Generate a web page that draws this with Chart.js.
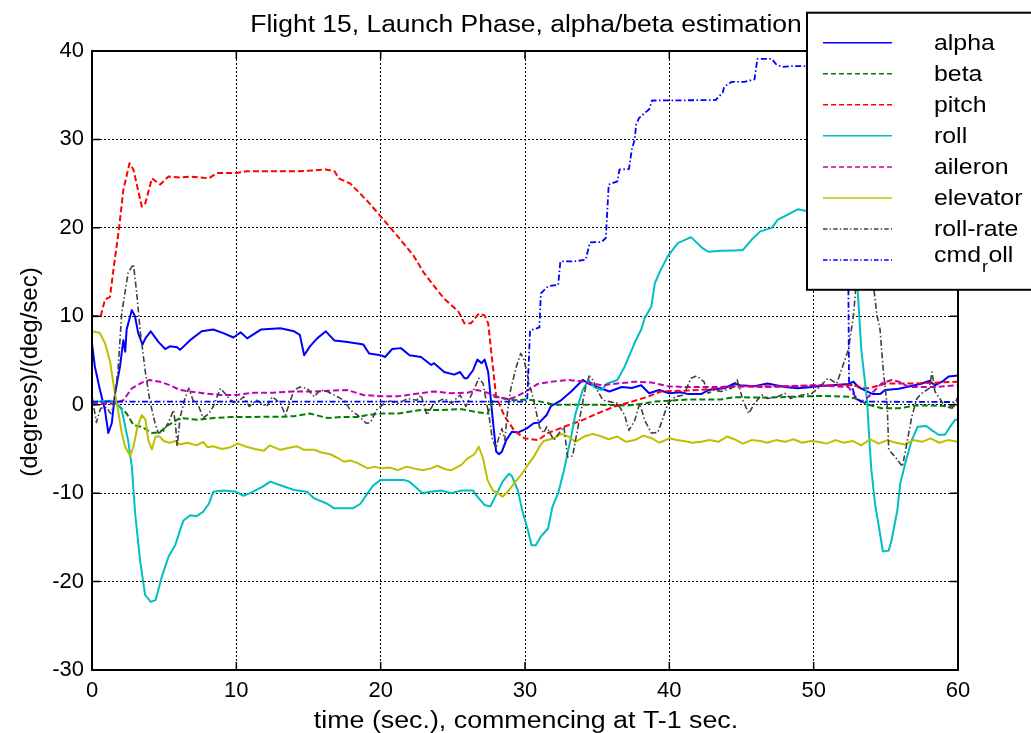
<!DOCTYPE html>
<html>
<head>
<meta charset="utf-8">
<script src="https://cdn.jsdelivr.net/npm/chart.js@4/dist/chart.umd.min.js"></script>
<style>
  html, body { margin: 0; padding: 0; background: #ffffff; overflow: hidden; }
  #wrap { width: 1031px; height: 733px; }
  canvas { display: block; }
</style>
</head>
<body>
<div id="wrap"><canvas id="chart" width="1031" height="733"></canvas></div>
<script>
// Axis ticks
const xTicks = [0, 10, 20, 30, 40, 50, 60];
const yTicks = [-30, -20, -10, 0, 10, 20, 30, 40];

// Series, as [time (s), value] pairs
const alpha = [[0,6.9],[0.2,4.3],[0.55,1.7],[0.9,-0.6],[1.13,-3.2],[1.37,-2.1],[1.6,1.3],[1.94,4.3],[2.17,7.3],[2.3,6.0],[2.4,8.5],[2.76,10.7],[2.98,10.0],[3.2,8.1],[3.5,6.8],[3.7,7.5],[4.07,8.3],[4.6,7.1],[5.07,6.3],[5.4,6.6],[5.9,6.5],[6.1,6.2],[6.8,7.3],[7.6,8.3],[8.4,8.5],[9.1,8.1],[9.8,7.6],[10.3,8.2],[10.75,7.5],[11.7,8.5],[13.05,8.65],[14.0,8.3],[14.4,7.9],[14.7,5.6],[15.1,6.6],[15.6,7.5],[16.2,8.3],[16.8,7.25],[17.7,7.1],[18.5,6.9],[18.8,6.8],[19.2,5.8],[20.0,5.6],[20.3,5.4],[20.8,6.3],[21.4,6.4],[22.0,5.6],[22.8,5.4],[23.5,4.5],[23.7,4.7],[24.4,3.7],[25.1,3.4],[25.5,3.7],[25.8,3.0],[26.0,3.0],[26.4,3.9],[26.7,5.1],[27.0,4.7],[27.2,5.1],[27.45,3.7],[27.75,-1.4],[28.0,-5.3],[28.2,-5.6],[28.4,-5.3],[28.7,-4.0],[29.1,-3.05],[29.5,-3.15],[30.1,-2.7],[30.6,-2.1],[31.0,-2.0],[31.5,-1.17],[31.8,-0.15],[32.5,0.5],[33.2,1.5],[34.0,2.8],[34.4,2.4],[35.0,2.0],[35.85,1.5],[36.7,2.0],[37.4,1.9],[38.05,2.2],[38.6,1.3],[39.3,1.66],[40.0,1.3],[40.8,1.4],[41.3,1.2],[42.2,1.2],[42.7,1.66],[43.8,1.85],[44.5,2.4],[44.9,2.2],[45.9,2.1],[46.8,2.4],[48.0,2.0],[48.9,1.86],[49.9,2.0],[50.3,2.1],[51.3,2.2],[52.4,2.35],[52.75,2.6],[53.1,2.0],[53.7,1.5],[54.1,1.2],[54.6,1.2],[54.95,1.66],[55.9,1.8],[57.0,2.2],[57.5,2.4],[58.0,2.7],[58.4,2.2],[58.9,2.6],[59.35,3.2],[60,3.3]];

const beta = [[0,0.15],[1.7,0.15],[2.4,-1.0],[2.87,-2.3],[3.45,-2.5],[4.15,-3.2],[4.7,-3.1],[5.2,-2.4],[6.1,-1.5],[7.3,-1.7],[8.4,-1.5],[9.6,-1.4],[10.7,-1.4],[12.1,-1.35],[13.3,-1.35],[14.0,-1.3],[15.1,-1.0],[16.3,-1.5],[17.2,-1.4],[18.4,-1.4],[19.1,-1.17],[20.0,-1.0],[21.2,-1.0],[22.3,-0.7],[22.8,-0.6],[24.2,-0.6],[25.6,-0.5],[26.7,-0.86],[27.4,-1.0],[27.9,0.9],[28.3,0.8],[29.25,0.5],[30.2,0.6],[31.1,0.35],[32.0,0.0],[33.4,0.0],[35.3,0.0],[37.1,-0.1],[38.1,0.1],[39.0,0.35],[40.0,0.45],[41.3,0.6],[43.6,0.6],[44.5,0.85],[46.8,0.8],[48.5,0.9],[50.6,1.0],[52.4,0.9],[52.9,0.7],[53.8,0.0],[54.7,-0.4],[55.9,-0.4],[57.0,-0.1],[58.2,-0.1],[60,-0.2]];

const pitch = [[0,10],[0.6,10],[0.9,11.9],[1.25,12.2],[1.48,15.2],[1.9,20.3],[2.17,24.3],[2.6,27.3],[2.87,26.6],[3.45,22.4],[3.7,22.8],[4.15,25.6],[4.72,24.9],[5.3,25.8],[6.1,25.7],[6.8,25.8],[8.1,25.6],[8.66,26.2],[10.0,26.2],[10.7,26.4],[14.2,26.4],[15.4,26.5],[16.2,26.6],[16.8,26.4],[17.1,25.6],[17.9,25.0],[19.1,23.0],[20.0,21.3],[21.2,19.0],[22.3,16.8],[23.0,14.9],[23.9,13.0],[24.4,12.0],[25.4,10.5],[25.8,9.2],[26.25,9.2],[26.8,10.3],[27.2,10.1],[27.45,9.2],[27.8,3.9],[28.0,0.9],[28.6,-1.35],[29.25,-2.9],[29.95,-3.8],[30.9,-4.0],[31.6,-3.2],[32.7,-2.5],[33.9,-1.8],[35.0,-1.0],[36.2,-0.2],[37.4,0.35],[38.5,0.9],[39.4,1.5],[41.3,1.6],[42.7,1.75],[44.1,2.0],[45.7,2.1],[48.0,2.1],[50.3,2.2],[52.6,2.2],[53.8,1.85],[55.0,2.4],[57.0,2.4],[60,2.6]];

const roll = [[0,0.3],[1.25,0.45],[1.7,0.3],[2.06,-0.6],[2.5,-4.0],[2.76,-7.0],[2.99,-12.3],[3.33,-17.6],[3.68,-21.5],[4.07,-22.3],[4.4,-22.1],[4.83,-19.5],[5.3,-17.2],[5.76,-15.9],[6.1,-14.2],[6.34,-13.1],[6.8,-12.5],[7.25,-12.6],[7.7,-12.1],[8.1,-11.2],[8.4,-9.85],[9.1,-9.7],[10.0,-9.85],[10.5,-10.3],[10.95,-10.0],[11.8,-9.3],[12.36,-8.7],[13.05,-9.1],[14.0,-9.65],[14.9,-9.85],[15.4,-10.6],[16.3,-11.2],[16.75,-11.7],[18.1,-11.7],[18.6,-11.2],[19.1,-10.0],[19.5,-9.1],[20.0,-8.5],[21.6,-8.5],[22.0,-8.7],[22.9,-10.0],[23.45,-9.85],[24.2,-9.7],[24.9,-10.0],[25.6,-9.7],[26.4,-9.7],[26.6,-10.2],[27.2,-11.35],[27.6,-11.5],[28.0,-10.2],[28.45,-8.7],[28.9,-7.8],[29.1,-8.1],[29.5,-9.65],[29.8,-11.9],[30.2,-14.2],[30.45,-15.9],[30.75,-15.9],[31.1,-14.9],[31.6,-14.0],[31.9,-11.55],[32.3,-10.0],[32.7,-7.4],[33.2,-3.6],[33.5,-1.0],[34.0,1.66],[34.4,2.8],[34.8,2.0],[35.3,1.66],[35.7,2.4],[36.4,2.8],[36.9,4.3],[37.6,7.0],[38.05,8.5],[38.3,9.8],[38.75,11.1],[39.0,13.75],[39.4,15.25],[39.9,16.8],[40.6,18.3],[40.9,18.5],[41.5,18.95],[42.3,17.7],[42.7,17.3],[43.6,17.4],[44.5,17.45],[45.1,17.5],[45.7,18.65],[46.3,19.6],[47.1,20.0],[47.5,20.9],[48.2,21.5],[48.9,22.1],[49.5,21.9],[50.5,23.0],[51.5,24.0],[52.3,24.0],[52.8,20.0],[53.05,13.0],[53.3,6.2],[53.7,0.5],[53.9,-5.1],[54.0,-7.4],[54.25,-11.2],[54.6,-14.6],[54.8,-16.6],[55.2,-16.5],[55.4,-15.3],[55.8,-11.9],[56.0,-8.9],[56.35,-6.6],[56.8,-4.0],[57.2,-2.5],[57.8,-2.4],[58.2,-2.9],[58.65,-3.4],[59.1,-3.4],[59.45,-2.5],[59.8,-1.7],[60,-1.7]];

const aileron = [[0,0.05],[1.5,0.15],[2.17,0.5],[2.76,1.85],[3.45,2.5],[4.0,2.8],[4.7,2.6],[5.4,2.2],[6.1,1.66],[6.8,1.5],[7.7,1.3],[8.9,1.1],[10.0,1.1],[11.2,1.35],[12.5,1.35],[14.0,1.5],[15.4,1.5],[16.75,1.6],[17.7,1.66],[18.8,1.1],[20.0,0.95],[21.2,0.95],[22.3,1.2],[23.7,1.5],[24.9,1.3],[26.0,1.35],[26.7,1.66],[27.4,1.35],[28.1,0.9],[28.8,0.6],[29.4,0.9],[30.2,1.66],[30.9,2.35],[31.8,2.6],[33.0,2.8],[34.1,2.6],[35.3,2.2],[36.4,2.4],[37.6,2.6],[38.8,2.5],[39.9,2.1],[41.0,2.0],[43.4,2.0],[44.5,2.1],[46.8,2.0],[49.2,2.1],[50.3,2.2],[52.4,2.0],[52.9,0.9],[53.3,0.35],[53.8,0.9],[54.7,2.4],[55.4,2.8],[55.9,2.6],[56.6,2.0],[58.4,2.0],[60,2.2]];

const elevator = [[0,8.3],[0.55,8.1],[0.9,6.95],[1.25,4.9],[1.5,2.2],[1.8,-0.6],[2.06,-3.2],[2.3,-4.75],[2.64,-5.8],[2.87,-4.75],[3.15,-2.5],[3.45,-1.17],[3.7,-1.66],[3.9,-4.0],[4.15,-5.05],[4.4,-3.6],[4.7,-3.6],[4.95,-4.1],[5.4,-4.3],[5.8,-4.1],[6.1,-4.5],[6.6,-4.3],[7.25,-4.6],[7.7,-4.2],[8.0,-4.8],[8.4,-4.7],[9.0,-5.0],[9.6,-4.8],[10.1,-4.4],[10.7,-4.75],[11.3,-5.0],[11.9,-5.2],[12.3,-4.6],[13.05,-5.1],[13.6,-4.9],[14.2,-4.7],[14.7,-5.1],[15.4,-5.1],[15.9,-5.4],[16.5,-5.6],[17.0,-6.0],[17.45,-6.45],[17.9,-6.3],[18.4,-6.6],[19.1,-7.2],[19.6,-7.0],[20.0,-7.2],[20.6,-7.1],[21.2,-7.4],[21.8,-7.0],[22.3,-7.2],[22.9,-7.4],[23.5,-7.2],[23.9,-6.9],[24.5,-7.3],[24.9,-7.4],[25.6,-6.8],[26.0,-6.1],[26.5,-5.6],[26.8,-4.75],[27.1,-6.1],[27.4,-8.5],[27.75,-9.65],[28.1,-10.0],[28.45,-10.4],[28.8,-9.85],[29.25,-8.9],[29.7,-8.0],[30.2,-6.8],[30.6,-5.9],[31.0,-4.75],[31.3,-4.1],[32.0,-3.8],[32.5,-3.3],[33.0,-3.6],[33.5,-4.2],[34.1,-3.6],[34.7,-3.3],[35.3,-3.6],[35.8,-3.9],[36.4,-3.6],[37.0,-4.2],[37.6,-4.0],[38.2,-3.5],[38.8,-3.8],[39.3,-4.3],[40.0,-3.8],[40.5,-4.0],[41.0,-4.1],[41.6,-4.3],[42.2,-4.2],[42.8,-4.0],[43.4,-4.2],[44.0,-3.6],[44.5,-3.9],[45.1,-4.4],[45.7,-4.0],[46.3,-4.1],[46.8,-4.3],[47.4,-4.0],[48.0,-4.2],[48.6,-3.9],[49.2,-4.3],[49.8,-4.1],[50.3,-4.2],[50.9,-4.4],[51.5,-4.0],[52.1,-4.3],[52.7,-4.1],[53.3,-4.6],[53.9,-3.9],[54.5,-4.4],[55.1,-4.0],[55.7,-4.3],[56.3,-4.5],[56.9,-4.0],[57.5,-4.2],[58.1,-3.8],[58.7,-4.3],[59.3,-4.0],[60,-4.2]];

const rollRate = [[0,1.0],[0.3,-2.0],[0.6,-0.4],[1.0,-0.3],[1.3,-1.0],[1.48,-0.2],[1.8,3.9],[2.06,10.35],[2.5,14.9],[2.87,15.9],[3.1,12.6],[3.33,8.5],[3.68,3.9],[4.0,0.5],[4.37,-2.1],[4.6,-3.2],[4.95,-3.0],[5.3,-2.0],[5.65,-0.6],[5.8,-2.5],[5.9,-4.75],[6.1,-1.5],[6.4,0.5],[6.7,1.85],[7.0,0.5],[7.4,-0.2],[7.7,-1.5],[8.1,-1.0],[8.4,-0.2],[8.9,1.85],[9.2,1.3],[9.6,0.5],[10.0,0.16],[10.5,0.9],[10.9,-0.2],[11.4,0.5],[12.1,-0.2],[12.5,0.9],[13.05,0.16],[13.4,-1.17],[14.0,1.66],[14.4,2.0],[14.9,1.85],[15.4,0.9],[15.8,1.66],[16.3,1.5],[17.0,0.9],[17.45,0.5],[17.9,-0.6],[18.4,-1.17],[19.0,-2.1],[19.3,-2.0],[19.7,-0.6],[20.0,-0.2],[20.5,0.5],[21.2,0.16],[21.9,0.7],[22.5,0.5],[22.8,1.1],[23.2,-1.17],[23.7,0.16],[24.4,0.7],[24.9,0.16],[25.5,1.1],[25.9,-0.2],[26.5,1.85],[26.8,3.0],[27.1,2.4],[27.3,0.5],[27.5,-1.17],[27.75,-4.0],[28.0,-4.9],[28.2,-3.6],[28.4,-2.7],[28.6,-4.0],[28.8,-0.6],[29.0,1.66],[29.4,4.3],[29.7,5.8],[29.9,5.25],[30.1,3.9],[30.3,2.4],[30.6,0.5],[30.75,-0.6],[31.0,-2.5],[31.3,-3.2],[31.5,-2.5],[32.0,-4.0],[32.5,-2.9],[32.7,-2.5],[32.95,-5.9],[33.3,-5.8],[33.5,-4.0],[33.9,-0.6],[34.2,2.0],[34.45,3.25],[34.7,2.8],[35.0,1.66],[35.4,0.5],[35.85,0.35],[36.4,0.16],[36.9,-1.17],[37.2,-2.9],[37.6,-1.8],[37.95,0.16],[38.3,-1.8],[38.75,-3.2],[39.2,-3.15],[39.5,-1.8],[39.9,0.16],[40.4,0.9],[41.0,1.1],[41.5,3.0],[41.9,3.25],[42.4,2.6],[42.7,1.3],[43.1,1.66],[43.6,1.5],[44.3,1.85],[44.7,2.8],[45.1,0.5],[45.5,-1.0],[45.9,0.16],[46.4,1.1],[46.8,0.7],[47.5,0.9],[48.0,1.3],[48.4,0.7],[49.2,1.1],[49.9,1.3],[50.3,1.85],[51.0,3.0],[51.6,2.4],[52.0,4.3],[52.4,6.2],[52.75,10.0],[52.9,12.8],[53.3,16.5],[53.7,17.5],[54.1,14.0],[54.4,10.0],[54.6,8.5],[54.8,4.3],[55.1,-0.2],[55.2,-5.1],[55.65,-5.9],[56.15,-7.0],[56.45,-4.4],[56.8,-1.35],[57.15,0.7],[57.5,1.3],[58.0,1.85],[58.2,3.7],[58.4,1.5],[58.65,0.9],[59.1,-0.2],[59.6,-0.4],[60,0.9]];

const cmdRoll = [[0,0.35],[30.15,0.35],[30.35,8.4],[31.0,8.75],[31.1,12.6],[31.6,13.4],[32.3,13.55],[32.45,16.2],[33.4,16.2],[34.2,16.4],[34.5,18.35],[35.3,18.4],[35.6,18.85],[35.8,24.9],[36.4,25.25],[36.55,26.6],[37.2,26.65],[37.4,28.85],[37.6,30.0],[37.7,31.7],[37.9,32.4],[38.3,33.0],[38.6,33.4],[38.8,34.4],[43.2,34.45],[43.7,35.3],[43.8,35.95],[44.3,36.5],[45.2,36.5],[45.9,36.8],[46.1,39.1],[47.1,39.1],[47.4,38.5],[47.8,38.2],[48.5,38.3],[52.3,38.3],[52.45,2.6],[52.6,2.4],[52.9,0.7],[53.3,0.35],[60,0.3]];

// Text
const titleText = 'Flight 15, Launch Phase, alpha/beta estimation';
const xLabelText = 'time (sec.), commencing at T-1 sec.';
const yLabelText = '(degrees)/(deg/sec)';

const FONT = '"Liberation Sans", Arial, Helvetica, sans-serif';
const DASHED = [6, 3];
const DASHDOT = [6, 2.5, 1.5, 2.5];

const seriesDefs = [
  { label: 'alpha',     data: alpha,    color: '#0000ff', width: 2,   dash: [] },
  { label: 'beta',      data: beta,     color: '#008000', width: 2,   dash: DASHED },
  { label: 'pitch',     data: pitch,    color: '#ff0000', width: 2,   dash: DASHED },
  { label: 'roll',      data: roll,     color: '#00bfbf', width: 2,   dash: [] },
  { label: 'aileron',   data: aileron,  color: '#bf00bf', width: 2,   dash: DASHED },
  { label: 'elevator',  data: elevator, color: '#bfbf00', width: 2,   dash: [] },
  { label: 'roll-rate', data: rollRate, color: '#404040', width: 1.6, dash: DASHDOT },
  { label: 'cmd_roll',  data: cmdRoll,  color: '#0000ff', width: 1.8, dash: DASHDOT }
];

const datasets = seriesDefs.map((s, i) => ({
  label: s.label,
  data: s.data.map(p => ({ x: p[0], y: p[1] })),
  borderColor: s.color,
  backgroundColor: s.color,
  borderWidth: s.width,
  borderDash: s.dash,
  pointRadius: 0,
  pointHoverRadius: 0,
  tension: 0,
  fill: false,
  borderJoinStyle: 'round',
  order: seriesDefs.length - i   // later series are painted on top
}));

// Draw a string with a slight horizontal stretch
function stretchedText(ctx, str, x, y, size, align, sx) {
  ctx.save();
  ctx.font = size + 'px ' + FONT;
  ctx.textAlign = align;
  ctx.textBaseline = 'alphabetic';
  ctx.translate(x, y);
  ctx.scale(sx, 1);
  ctx.fillText(str, 0, 0);
  ctx.restore();
}

const frameAndLegend = {
  id: 'frameAndLegend',
  beforeDraw(chart) {
    const ctx = chart.ctx;
    ctx.save();
    ctx.fillStyle = '#ffffff';
    ctx.fillRect(0, 0, chart.width, chart.height);
    ctx.restore();
  },
  afterDatasetsDraw(chart) {
    const ctx = chart.ctx;
    const a = chart.chartArea;
    const xs = chart.scales.x, ys = chart.scales.y;
    const tl = 8;

    ctx.save();
    ctx.strokeStyle = '#000000';
    ctx.setLineDash([]);
    // inward tick marks on all four sides
    ctx.lineWidth = 1.5;
    ctx.beginPath();
    xTicks.forEach(v => {
      const px = xs.getPixelForValue(v);
      ctx.moveTo(px, a.bottom); ctx.lineTo(px, a.bottom - tl);
      ctx.moveTo(px, a.top);    ctx.lineTo(px, a.top + tl);
    });
    yTicks.forEach(v => {
      const py = ys.getPixelForValue(v);
      ctx.moveTo(a.left, py);  ctx.lineTo(a.left + tl, py);
      ctx.moveTo(a.right, py); ctx.lineTo(a.right - tl, py);
    });
    ctx.stroke();
    // axes box
    ctx.lineWidth = 2;
    ctx.strokeRect(a.left, a.top, a.right - a.left, a.bottom - a.top);

    // legend box
    const lx = 807, ly = 12.7, lb = 289.8;
    ctx.fillStyle = '#ffffff';
    ctx.fillRect(lx, ly, 1040 - lx, lb - ly);
    ctx.strokeRect(lx, ly, 1040 - lx, lb - ly);

    const row0 = 42.7, rowStep = 31.05;
    seriesDefs.forEach((s, i) => {
      const y = row0 + i * rowStep;
      ctx.save();
      ctx.strokeStyle = s.color;
      ctx.lineWidth = 1.5;
      ctx.setLineDash(s.dash.length === 2 ? [5, 3] : (s.dash.length ? [4.5, 2.2, 1.3, 2.2] : []));
      ctx.beginPath();
      ctx.moveTo(823, y); ctx.lineTo(892, y);
      ctx.stroke();
      ctx.restore();

      ctx.fillStyle = '#000000';
      const k = s.label.indexOf('_');
      if (k < 0) {
        stretchedText(ctx, s.label, 934, y + 7.4, 22, 'left', 1.13);
      } else {
        // TeX-style subscript: the character after "_" is lowered
        const pre = s.label.slice(0, k), sub = s.label.charAt(k + 1), post = s.label.slice(k + 2);
        const base = y + 2;
        ctx.font = '22px ' + FONT;
        const wPre = ctx.measureText(pre).width * 1.13;
        ctx.font = '16px ' + FONT;
        const wSub = ctx.measureText(sub).width * 1.13;
        stretchedText(ctx, pre, 934, base, 22, 'left', 1.13);
        stretchedText(ctx, sub, 934 + wPre + 1, base + 9.5, 16, 'left', 1.13);
        stretchedText(ctx, post, 934 + wPre + wSub + 1.5, base, 22, 'left', 1.13);
      }
    });

    // title and axis labels
    ctx.fillStyle = '#000000';
    stretchedText(ctx, titleText, (a.left + a.right) / 2 + 1, 31.7, 23, 'center', 1.15);
    stretchedText(ctx, xLabelText, (a.left + a.right) / 2 + 1, 728, 23, 'center', 1.165);
    ctx.save();
    ctx.font = '24px ' + FONT;
    ctx.textAlign = 'center';
    ctx.textBaseline = 'middle';
    ctx.translate(30, 372);
    ctx.rotate(-Math.PI / 2);
    ctx.fillText(yLabelText, 0, 0);
    ctx.restore();

    ctx.restore();
  }
};

new Chart(document.getElementById('chart'), {
  type: 'line',
  data: { datasets },
  options: {
    responsive: false,
    animation: false,
    devicePixelRatio: 1,
    events: [],
    layout: { padding: { left: 0, right: 73, top: 51, bottom: 0 } },
    plugins: { legend: { display: false }, title: { display: false }, tooltip: { enabled: false } },
    scales: {
      x: {
        type: 'linear',
        min: 0, max: 60,
        afterBuildTicks: s => { s.ticks = xTicks.map(v => ({ value: v })); },
        afterFit: s => { s.height = 63; },
        grid: { color: '#000000', lineWidth: 1, drawTicks: false },
        border: { display: false, dash: [2, 2] },
        ticks: { color: '#000000', padding: 8, maxRotation: 0, autoSkip: false,
                 font: { family: FONT, size: 22 } }
      },
      y: {
        type: 'linear',
        min: -30, max: 40,
        afterBuildTicks: s => { s.ticks = yTicks.map(v => ({ value: v })); },
        afterFit: s => { s.width = 92; },
        grid: { color: '#000000', lineWidth: 1, drawTicks: false },
        border: { display: false, dash: [2, 2] },
        ticks: { color: '#000000', padding: 8, autoSkip: false,
                 font: { family: FONT, size: 22 } }
      }
    }
  },
  plugins: [frameAndLegend]
});
</script>
</body>
</html>
